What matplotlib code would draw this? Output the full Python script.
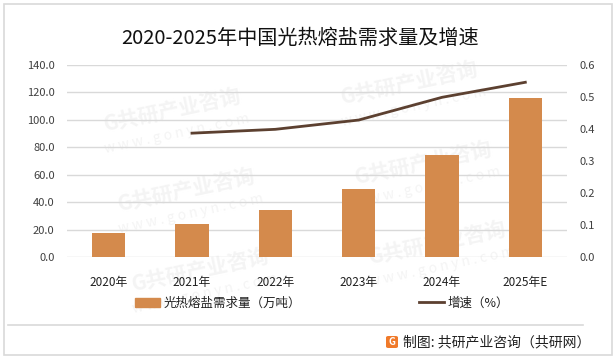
import matplotlib
matplotlib.use('Agg')
import matplotlib.pyplot as plt
from matplotlib.patches import Rectangle, FancyBboxPatch
from matplotlib.lines import Line2D

plt.rcParams['font.family'] = ['Noto Sans CJK SC', 'DejaVu Sans']

# data
years = ['2020年', '2021年', '2022年', '2023年', '2024年', '2025年E']
demand = [17.5, 24.0, 34.3, 49.6, 74.4, 116.0]          # 万吨
growth_years = ['2021年', '2022年', '2023年', '2024年', '2025年E']
growth = [0.387, 0.399, 0.428, 0.499, 0.546]

bar_color = '#D48A4C'
line_color = '#5C4030'
grid_color = '#D9D9D9'
text_color = '#404040'

W, H = 616, 358
fig = plt.figure(figsize=(W / 100, H / 100), dpi=100)

def px(x, y):
    return x / W, 1 - y / H

# faint watermarks behind everything (only those that fit inside the frame)
for row in range(-1, 5):
    for col in range(-1, 3):
        cx = 173 + col * 237 + row * 14
        cy = 110 - col * 27 + row * 80
        if not (90 < cx < 530 and 40 < cy < 300):
            continue
        fx, fy = px(cx, cy)
        fig.text(fx, fy, 'G共研产业咨询', fontsize=15, fontweight='bold',
                 color='#F4F4F4', rotation=12, ha='center', va='center', zorder=-2)
        fx2, fy2 = px(cx + 4, cy + 24)
        fig.text(fx2, fy2, 'w w w . g o n y n . c o m', fontsize=10,
                 color='#F4F4F4', rotation=12, ha='center', va='center', zorder=-2)

ax = fig.add_axes([67 / W, 1 - 257 / H, 500 / W, 192 / H])
ax.patch.set_visible(False)
x = list(range(len(years)))
ax.bar(x, demand, width=0.4, color=bar_color, zorder=3, label='光热熔盐需求量（万吨）')
ax.set_xlim(-0.5, len(years) - 0.5)
ax.set_ylim(0, 140)
ax.set_yticks(range(0, 141, 20))
ax.set_yticklabels([f'{v:.1f}' for v in range(0, 141, 20)])
ax.set_xticks(x)
ax.set_xticklabels(years)
ax.grid(axis='y', color=grid_color, linewidth=1, zorder=0)
for s in ax.spines.values():
    s.set_visible(False)
ax.tick_params(axis='y', length=0, pad=9, labelsize=8, labelcolor=text_color)
ax.tick_params(axis='x', length=0, pad=14, labelsize=8.5, labelcolor='#202020')

ax2 = ax.twinx()
gx = [years.index(y) for y in growth_years]
ax2.plot(gx, growth, color=line_color, linewidth=2, zorder=4, label='增速（%）')
ax2.set_ylim(0, 0.6)
ax2.set_yticks([0, 0.1, 0.2, 0.3, 0.4, 0.5, 0.6])
ax2.set_yticklabels([f'{v:.1f}' for v in [0, 0.1, 0.2, 0.3, 0.4, 0.5, 0.6]])
for s in ax2.spines.values():
    s.set_visible(False)
ax2.tick_params(axis='y', length=0, pad=9, labelsize=8, labelcolor=text_color)

# title
tx, ty = px(300, 38)
fig.text(tx, ty, '2020-2025年中国光热熔盐需求量及增速', fontsize=14.5,
         ha='center', va='center', color='#111111')

# legend
handles = [Rectangle((0, 0), 1, 1, color=bar_color),
           Line2D([0], [0], color=line_color, linewidth=2)]
labels = ['光热熔盐需求量（万吨）', '增速（%）']
lx, ly = px(322, 303)
fig.legend(handles, labels, loc='center', bbox_to_anchor=(lx, ly), ncol=2,
           frameon=False, fontsize=9, handlelength=2.0, handleheight=0.7,
           columnspacing=9.4, handletextpad=0.3, labelcolor='#202020')

# frame and separator
fig.add_artist(Rectangle(px(4, 355), 608 / W, 351 / H, transform=fig.transFigure,
                         fill=False, edgecolor=grid_color, linewidth=1.2))
fig.add_artist(Line2D([8 / W, 583 / W], [1 - 325 / H] * 2, transform=fig.transFigure,
                      color=grid_color, linewidth=1.2))

# footer with small logo
ix, iy = px(386, 348)
fig.add_artist(FancyBboxPatch((ix, iy), 12 / W, 12 / H, transform=fig.transFigure,
                              boxstyle='round,pad=0,rounding_size=0.004',
                              facecolor='#F07A2A', edgecolor='none'))
gx_, gy_ = px(392, 342)
fig.text(gx_, gy_, 'G', fontsize=7, fontweight='bold', color='white',
         ha='center', va='center')
fx, fy = px(403, 342)
fig.text(fx, fy, '制图: 共研产业咨询（共研网）', fontsize=10, ha='left', va='center',
         color='#202020')

fig.savefig('out.png', dpi=100)
